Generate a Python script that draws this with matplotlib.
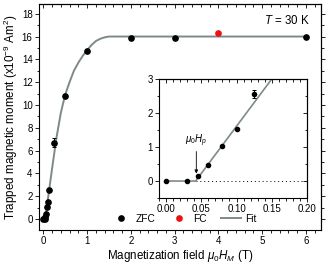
import matplotlib
matplotlib.use("Agg")
import matplotlib.pyplot as plt
from matplotlib.lines import Line2D
from matplotlib.ticker import MultipleLocator, FormatStrFormatter, NullFormatter

plt.rcParams['font.family'] = ['Liberation Sans', 'DejaVu Sans']
plt.rcParams['mathtext.fontset'] = 'custom'
plt.rcParams['mathtext.rm'] = 'Liberation Sans'
plt.rcParams['mathtext.it'] = 'Liberation Sans:italic'

# ZFC data (T, x1e-9 Am^2)
zfc_x = [0.0, 0.03, 0.045, 0.06, 0.08, 0.10, 0.125, 0.25, 0.5, 1.0, 2.0, 3.0, 6.0]
zfc_y = [0.0, 0.0, 0.15, 0.47, 1.03, 1.53, 2.55, 6.7, 10.8, 14.7, 15.9, 15.9, 16.0]
zfc_err = [0, 0, 0, 0, 0, 0, 0.12, 0.4, 0, 0, 0, 0, 0]
# FC data
fc_x = [4.0]
fc_y = [16.3]
# Fit curve
fit_x = [0.0, 0.042, 0.1, 0.2, 0.3, 0.4, 0.5, 0.6, 0.7, 0.8, 0.9, 1.0, 1.1, 1.2, 1.3, 1.4, 1.5, 6.0]
fit_y = [0.0, 0.0, 1.6, 4.4, 7.1, 9.3, 10.9, 12.0, 13.0, 13.7, 14.3, 14.8, 15.25, 15.6, 15.8, 15.93, 16.0, 16.0]
# Inset fit (piecewise linear)
ifit_x = [0.0, 0.042, 0.16]
ifit_y = [0.0, 0.0, 3.28]

fit_color = '#7d8a89'
TICK_FS = 7
LAB_FS = 8.4


def style_ticks(a, xmaj, xmin, ymaj, ymin, right_dir):
    a.xaxis.set_major_locator(MultipleLocator(xmaj))
    a.xaxis.set_minor_locator(MultipleLocator(xmin))
    a.yaxis.set_major_locator(MultipleLocator(ymaj))
    a.yaxis.set_minor_locator(MultipleLocator(ymin))
    a.tick_params(which='both', direction='out', top=False, right=False,
                  labelsize=TICK_FS, width=0.6, pad=1.5)
    a.tick_params(which='major', length=3)
    a.tick_params(which='minor', length=1.8)
    for sp in a.spines.values():
        sp.set_linewidth(0.8)
    # top ticks pointing inward
    t = a.secondary_xaxis('top')
    t.xaxis.set_major_locator(MultipleLocator(xmaj))
    t.xaxis.set_minor_locator(MultipleLocator(xmin))
    t.xaxis.set_major_formatter(NullFormatter())
    t.tick_params(which='both', direction='in', width=0.6)
    t.tick_params(which='major', length=3)
    t.tick_params(which='minor', length=1.8)
    t.spines['top'].set_linewidth(0.8)
    r = a.secondary_yaxis('right')
    r.yaxis.set_major_locator(MultipleLocator(ymaj))
    r.yaxis.set_minor_locator(MultipleLocator(ymin))
    r.yaxis.set_major_formatter(NullFormatter())
    r.tick_params(which='both', direction=right_dir, width=0.6)
    r.tick_params(which='major', length=3)
    r.tick_params(which='minor', length=1.8)
    r.spines['right'].set_linewidth(0.8)


fig = plt.figure(figsize=(3.27, 2.68), dpi=100)
ax = fig.add_axes([0.119, 0.142, 0.863, 0.843])

ax.plot(fit_x, fit_y, color=fit_color, lw=1.4, zorder=2)
ax.errorbar(zfc_x, zfc_y, yerr=zfc_err, fmt='o', color='black', ms=3.8,
            elinewidth=0.7, capsize=1.5, capthick=0.7, zorder=3)
ax.plot(fc_x, fc_y, 'o', color='#ee1111', ms=3.8, zorder=3)

ax.set_xlim(-0.1, 6.35)
ax.set_ylim(-0.95, 18.85)
style_ticks(ax, 1, 0.2, 2, 1, 'out')
ax.set_xlabel(r'Magnetization field $\mu_0H_M$ (T)', fontsize=LAB_FS, labelpad=1.5)
ax.set_ylabel(r'Trapped magnetic moment (x10$^{-9}$ Am$^2$)', fontsize=LAB_FS, labelpad=1)
ax.text(0.96, 0.955, r'$T$ = 30 K', transform=ax.transAxes, ha='right', va='top', fontsize=8.3)

handles = [Line2D([], [], marker='o', ls='none', color='black', ms=3.8),
           Line2D([], [], marker='o', ls='none', color='#ee1111', ms=3.8),
           Line2D([], [], color=fit_color, lw=1.4)]
ax.legend(handles, ['ZFC', 'FC', 'Fit'], ncol=3, frameon=False, fontsize=7.3,
          loc='lower left', bbox_to_anchor=(0.23, -0.005), handlelength=2.0,
          columnspacing=1.4, handletextpad=0.4, borderpad=0.2)

# inset
ins = fig.add_axes([0.486, 0.261, 0.453, 0.444])
ins.plot(ifit_x, ifit_y, color=fit_color, lw=1.2, zorder=2)
ins.plot([0.042, 0.2], [0, 0], ls=(0, (1, 3)), color='black', lw=0.7, zorder=1)
ins.errorbar(zfc_x[:7], zfc_y[:7], yerr=zfc_err[:7], fmt='o', color='black', ms=3.0,
             elinewidth=0.7, capsize=1.5, capthick=0.7, zorder=3)
ins.set_xlim(-0.01, 0.2)
ins.set_ylim(-0.5, 3.0)
style_ticks(ins, 0.05, 0.01, 1, 0.5, 'in')
ins.xaxis.set_major_formatter(FormatStrFormatter('%.2f'))
ins.annotate(r'$\mu_0H_p$', xy=(0.043, 0.22), xytext=(0.043, 0.95),
             ha='center', va='bottom', fontsize=7,
             arrowprops=dict(arrowstyle='-|>', color='black', lw=0.6,
                             mutation_scale=5, shrinkA=0, shrinkB=0))

fig.savefig('out.png', dpi=100)
